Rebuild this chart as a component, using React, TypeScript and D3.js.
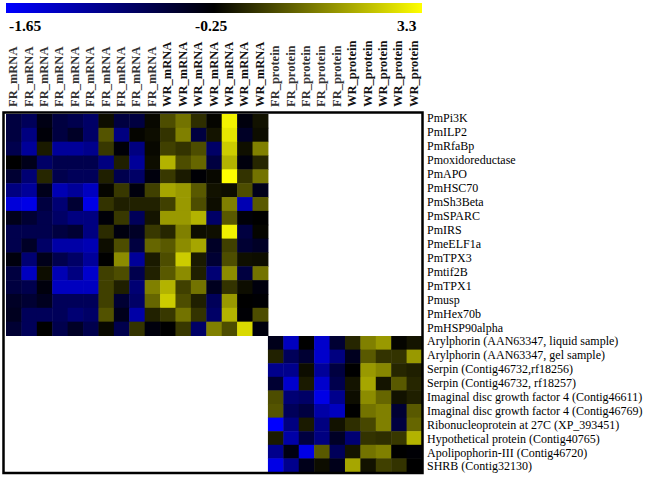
import React from "react";
import * as d3 from "d3";

const colLabels = [
  ...Array(10).fill("FR_mRNA"), ...Array(7).fill("WR_mRNA"),
  ...Array(5).fill("FR_protein"), ...Array(5).fill("WR_protein"),
];
const upperGenes = ["PmPi3K","PmILP2","PmRfaBp","Pmoxidoreductase","PmAPO","PmHSC70","PmSh3Beta","PmSPARC","PmIRS","PmeELF1a","PmTPX3","Pmtif2B","PmTPX1","Pmusp","PmHex70b","PmHSP90alpha"];
const lowerGenes = ["Arylphorin (AAN63347, liquid sample)","Arylphorin (AAN63347, gel sample)","Serpin (Contig46732,rf18256)","Serpin (Contig46732, rf18257)","Imaginal disc growth factor 4 (Contig46611)","Imaginal disc growth factor 4 (Contig46769)","Ribonucleoprotein at 27C (XP_393451)","Hypothetical protein (Contig40765)","Apolipophorin-III (Contig46720)","SHRB (Contig32130)"];
// signed colour strength: negative = blue side, positive = yellow side, in tenths
const upperValues = [
  [-2.5,-3.5,-0.8,-2.5,-3,-4,0.5,-2.5,-2.5,0.3,3,4.5,1.8,0.2,9.5,-0.5,0.7],
  [-2.5,-5,-0.3,-2.5,-1.5,-4,3.3,-5,0.2,0.5,2,5,-2.5,0.8,9,-1.5,0.5],
  [-3,-6,1,-6,-6,-5.5,2.2,-0.3,-5,0.3,2.5,2,3,-4,8,0.6,5],
  [0,-1,-4,-3,-3,-3,-5,1.2,-6,0.5,7,3,4,-2.5,7,-0.5,1.5],
  [-2,-4.5,1.5,-3,-3.5,-3.5,1.2,-3,-4,-0.5,2.2,1,-0.2,0.3,10,2,4.5],
  [-5,-6,-1,-7,-6,-7.5,0.2,2.2,-0.5,2.5,6.5,6,3.5,0.7,0.5,3,-1],
  [-8.5,-9,-2.5,-4.5,-2,-9,2,1.2,1.3,1.3,2.5,6,3,0.5,5,-7,3.5],
  [-1,-2,-3,-4,-5,-5,-0.3,2.2,-3.5,0.8,6,6,7,-4,3.5,-0.3,0],
  [-3,-3,-3,-2.5,-2,-5,1.7,-0.6,-1.5,2.2,1.5,5,0.5,0.6,9.5,-2.5,0.2],
  [-3,-1.5,-4,-6.5,-6.5,-7,0.5,3,-2.5,4,3.5,5.5,6.5,-1.5,2.5,-2,-1.5],
  [-0.5,-4.5,-1,-3,-4,-6,0,5.5,-6,1,3,8,1,-2,3,0.6,0.5],
  [-2.5,-7.5,0.5,-7,-5,-8,2.5,3,-3,1.3,3.5,5.5,1.2,-4.5,5.5,-2.5,4.5],
  [-2.5,-3,-0.5,-7.5,-7.5,-7.5,2.5,1.2,-4.5,5,7,2.5,4.5,-1.2,2,0.5,-0.5],
  [-1.5,-2,-1.2,-3.5,-3.5,-3.5,2.5,-2,-4,4,8,3,1.2,-3.5,6,0,-0.1],
  [-1.2,-3.5,-3.5,-3.5,-4.5,-4,3.2,-1,-6.5,1.3,2.2,4.5,2,-4,7,-0.2,3],
  [-2,-3.5,0,-3,-1.5,-3,0.3,-3,2,-0.5,0,2.2,-4,5,3,8.5,-0.5],
];
const lowerValues = [
  [-1,-7.5,0,-8,-2,1.5,5,6,0.2,0.8],
  [1.3,-3.5,-2,-8,-5,-1.2,3.5,2,2,6],
  [-5.5,-5.5,0.5,-6,-2.5,0,6,5.3,1.5,1.2],
  [-2,-8,1,-8,-3,0.8,6.5,0.8,3.5,1.5],
  [3,-4.5,-4,-9,-5.5,0.5,5.5,4,0.7,1.2],
  [3.3,-3.5,-2.5,-6.5,-7.5,0,4.5,5,-2,3.5],
  [-10,-5,1,-5,0.7,1.8,2.8,5,-2.5,4],
  [1,-6.5,-2.5,-5,-1.5,-4.5,2,1.8,2.2,7],
  [-5.5,-0.7,-9,3.5,-3.5,0.8,4.5,5,0,-0.2],
  [-9,-5.5,-1,0.5,-1,6.5,0.7,2.5,2,0],
];
const legendTicks = [
  { label: "-1.65", x: 9 },
  { label: "-0.25", x: 195 },
  { label: "3.3", x: 397 },
];
const serif = "'Liberation Serif', 'Times New Roman', serif";

const color = d3.scaleLinear<string>().domain([-10, 0, 10]).range(["#0000ff", "#000000", "#ffff00"]).clamp(true);

export default function App() {
  const x = d3.scaleBand<number>().domain(d3.range(colLabels.length)).range([6, 422]);
  const yU = d3.scaleBand<number>().domain(d3.range(upperGenes.length)).range([114, 335.5]);
  const yL = d3.scaleBand<number>().domain(d3.range(lowerGenes.length)).range([336, 472]);
  const labU = d3.scaleLinear().domain([0, 15]).range([118.5, 328]);
  const labL = d3.scaleLinear().domain([0, 9]).range([341.5, 466.5]);
  const cw = x.bandwidth();
  return (
    <svg width={662} height={477} style={{ position: "absolute", left: 0, top: 0, background: "#fff" }}>
      <defs>
        <linearGradient id="leg">
          <stop offset="0" stopColor="#0000ff" />
          <stop offset="0.5" stopColor="#000000" />
          <stop offset="1" stopColor="#ffff00" />
        </linearGradient>
      </defs>
      <rect x={6} y={3} width={416} height={10} fill="url(#leg)" />
      {legendTicks.map((t) => (
        <text key={t.label} x={t.x} y={31} fontFamily={serif} fontWeight="bold" fontSize={15.5} fill="#000">{t.label}</text>
      ))}
      {colLabels.map((l, i) => (
        <text key={i} transform={`translate(${x(i)! + cw / 2 + 3.5},107) rotate(-90)`} fontFamily={serif} fontWeight="bold" fontSize={12.5} fill={l.startsWith("FR") ? "#333" : "#111"}>{l}</text>
      ))}
      {upperValues.map((row, r) => row.map((v, c) => (
        <rect key={`u${r}-${c}`} x={x(c)} y={yU(r)} width={cw + 0.5} height={yU.bandwidth() + 0.5} fill={color(v)} />
      )))}
      {lowerValues.map((row, r) => row.map((v, c) => (
        <rect key={`l${r}-${c}`} x={x(c + 17)} y={yL(r)} width={cw + 0.5} height={yL.bandwidth() + 0.5} fill={color(v)} />
      )))}
      <rect x={3.5} y={112.5} width={419} height={360.5} fill="none" stroke="#000" strokeWidth={2.5} />
      {upperGenes.map((g, i) => (
        <text key={g} x={427} y={labU(i)} dy="0.33em" fontFamily={serif} fontSize={12} fill="#000">{g}</text>
      ))}
      {lowerGenes.map((g, i) => (
        <text key={g} x={427} y={labL(i)} dy="0.33em" fontFamily={serif} fontSize={12} fill="#000">{g}</text>
      ))}
    </svg>
  );
}
